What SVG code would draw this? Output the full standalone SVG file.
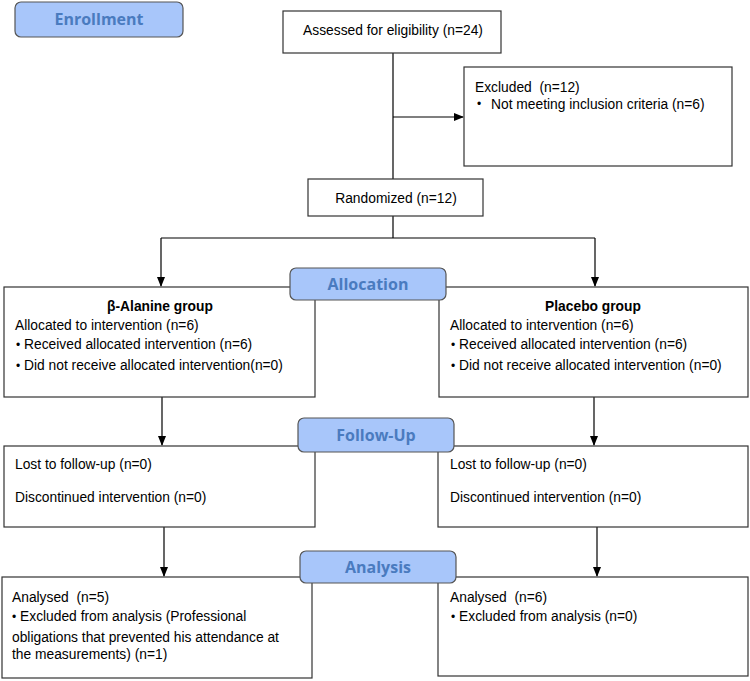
<svg xmlns="http://www.w3.org/2000/svg" width="750" height="681" viewBox="0 0 750 681">
<defs>
<marker id="ah" markerWidth="10" markerHeight="10" refX="9" refY="5" orient="auto" markerUnits="userSpaceOnUse">
<path d="M0,1 L10,5 L0,9 Z" fill="#000"/>
</marker>
<style>
.box{fill:#fff;stroke:#333;stroke-width:1.2}
.lbl{fill:#a8c6fa;stroke:#555;stroke-width:1.2}
.lt{font-family:"Open Sans","Liberation Sans",sans-serif;font-weight:bold;font-size:16px;fill:#4a7bbf;text-anchor:middle}
.t{font-family:"Liberation Sans",Arial,sans-serif;font-size:13.8px;fill:#000;white-space:pre}
.b{font-weight:bold}
.c{text-anchor:middle}
.bu{font-size:12px}
.ln{stroke:#000;stroke-width:1.2;fill:none}
</style>
</defs>
<rect width="750" height="681" fill="#fff"/>
<g id="connectors">
<line class="ln" x1="393" y1="53" x2="393" y2="179"/>
<line class="ln" x1="393" y1="117" x2="463" y2="117" marker-end="url(#ah)"/>
<polyline class="ln" points="393,216 393,238"/>
<line class="ln" x1="161" y1="238" x2="595" y2="238"/>
<line class="ln" x1="161" y1="238" x2="161" y2="286" marker-end="url(#ah)"/>
<line class="ln" x1="595" y1="238" x2="595" y2="286" marker-end="url(#ah)"/>
<line class="ln" x1="162" y1="397" x2="162" y2="445" marker-end="url(#ah)"/>
<line class="ln" x1="594" y1="397" x2="594" y2="445" marker-end="url(#ah)"/>
<line class="ln" x1="164" y1="527" x2="164" y2="576" marker-end="url(#ah)"/>
<line class="ln" x1="597" y1="527" x2="597" y2="576" marker-end="url(#ah)"/>
</g>
<g id="enrollment">
<rect class="lbl" x="15" y="2" width="168" height="35" rx="6"/>
<text class="lt" x="99" y="25">Enrollment</text>
</g>
<g id="assessed">
<rect class="box" x="283" y="11" width="218" height="42"/>
<text class="t c" x="393" y="35">Assessed for eligibility (n=24)</text>
</g>
<g id="excluded">
<rect class="box" x="464" y="67" width="268" height="99"/>
<text class="t" x="475" y="92">Excluded  (n=12)</text>
<text class="t bu" x="477" y="108">•</text>
<text class="t" x="491" y="109">Not meeting inclusion criteria (n=6)</text>
</g>
<g id="randomized">
<rect class="box" x="308" y="179" width="175" height="37"/>
<text class="t c" x="396" y="203">Randomized (n=12)</text>
</g>
<g id="alloc-left">
<rect class="box" x="4" y="287" width="311" height="110"/>
<text class="t b c" x="160" y="311">β-Alanine group</text>
<text class="t" x="15" y="330">Allocated to intervention (n=6)</text>
<text class="t" x="16" y="349"><tspan class="bu">•</tspan> Received allocated intervention (n=6)</text>
<text class="t" x="16" y="370"><tspan class="bu">•</tspan> Did not receive allocated intervention(n=0)</text>
</g>
<g id="alloc-right">
<rect class="box" x="439" y="287" width="309" height="110"/>
<text class="t b c" x="593" y="311">Placebo group</text>
<text class="t" x="450" y="330">Allocated to intervention (n=6)</text>
<text class="t" x="451" y="349"><tspan class="bu">•</tspan> Received allocated intervention (n=6)</text>
<text class="t" x="451" y="370"><tspan class="bu">•</tspan> Did not receive allocated intervention (n=0)</text>
</g>
<g id="allocation">
<rect class="lbl" x="290" y="268" width="156" height="32" rx="6"/>
<text class="lt" x="368" y="290">Allocation</text>
</g>
<g id="follow-left">
<rect class="box" x="4" y="446" width="311" height="81"/>
<text class="t" x="15" y="469">Lost to follow-up (n=0)</text>
<text class="t" x="15" y="502">Discontinued intervention (n=0)</text>
</g>
<g id="follow-right">
<rect class="box" x="438" y="446" width="310" height="81"/>
<text class="t" x="450" y="469">Lost to follow-up (n=0)</text>
<text class="t" x="450" y="502">Discontinued intervention (n=0)</text>
</g>
<g id="followup">
<rect class="lbl" x="298" y="418" width="156" height="34" rx="6"/>
<text class="lt" x="376" y="441">Follow-Up</text>
</g>
<g id="analysis-left">
<rect class="box" x="2" y="577" width="310" height="101"/>
<text class="t" x="12" y="602">Analysed  (n=5)</text>
<text class="t" x="12" y="621"><tspan class="bu">•</tspan> Excluded from analysis (Professional</text>
<text class="t" x="12" y="642">obligations that prevented his attendance at</text>
<text class="t" x="12" y="659">the measurements) (n=1)</text>
</g>
<g id="analysis-right">
<rect class="box" x="438" y="577" width="310" height="99"/>
<text class="t" x="450" y="602">Analysed  (n=6)</text>
<text class="t" x="451" y="621"><tspan class="bu">•</tspan> Excluded from analysis (n=0)</text>
</g>
<g id="analysis">
<rect class="lbl" x="300" y="551" width="156" height="32" rx="6"/>
<text class="lt" x="378" y="573">Analysis</text>
</g>
</svg>
